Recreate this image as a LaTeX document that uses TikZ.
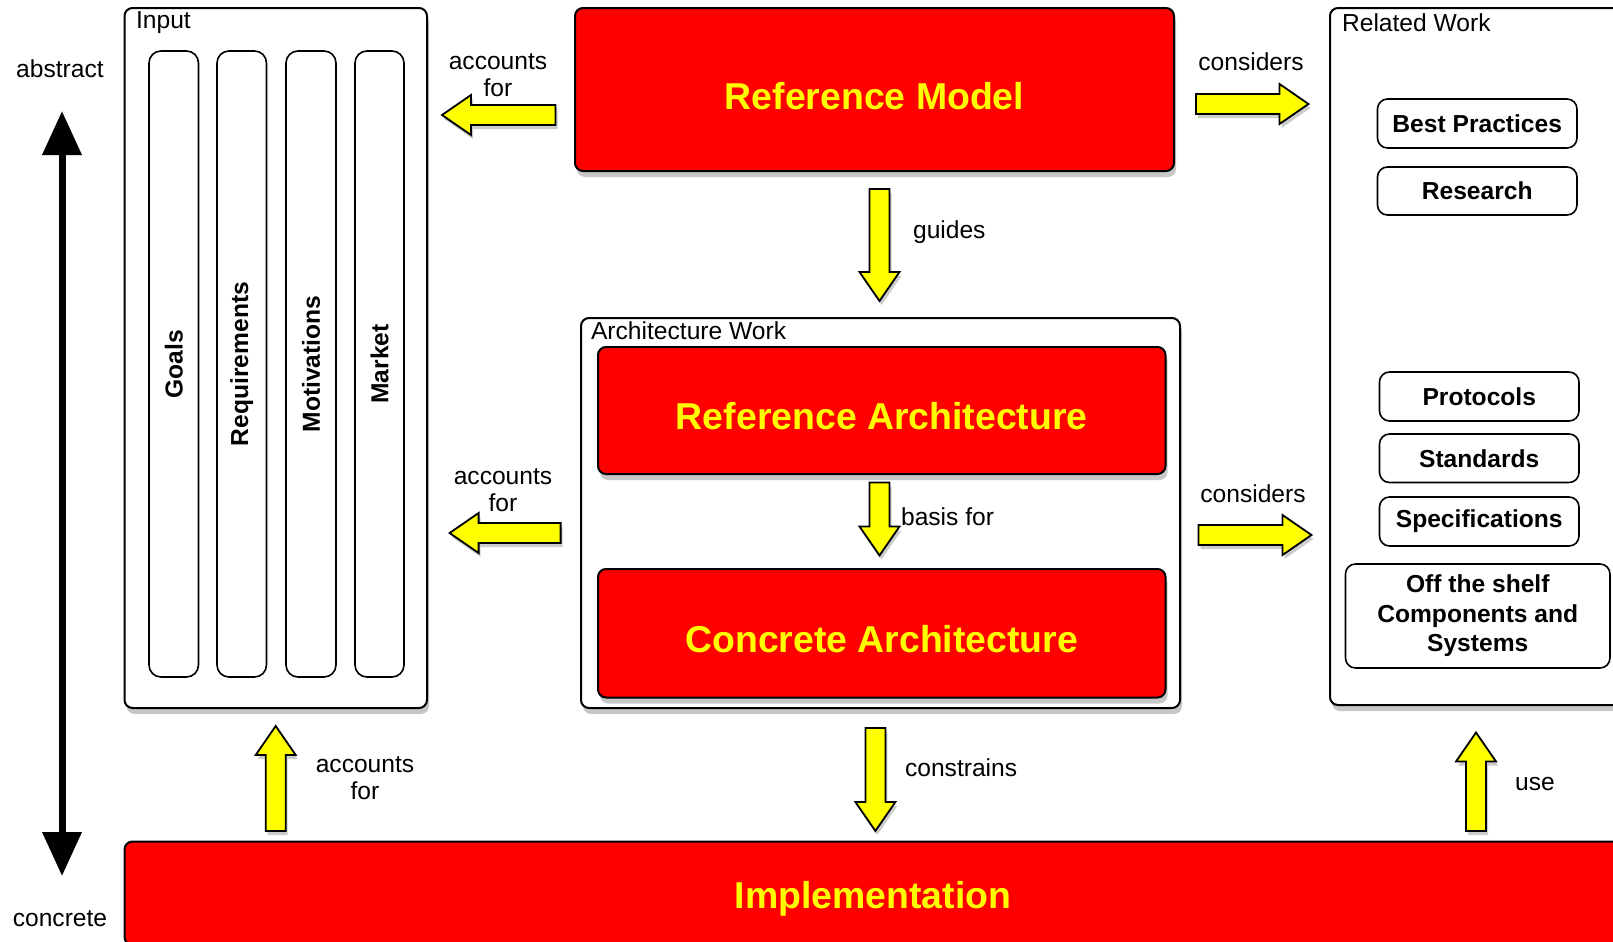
\documentclass[tikz,border=0pt]{standalone}
\usepackage{fontspec}
\setmainfont{Liberation Sans}
\usetikzlibrary{fit,shadows,arrows.meta}
\definecolor{boxred}{RGB}{255,0,0}
\definecolor{txtyellow}{RGB}{255,255,0}
\definecolor{arryellow}{RGB}{255,255,0}
\newcommand\myBig{\fontsize{18.7}{22}\selectfont\bfseries}
\newcommand\myLbl{\fontsize{12.3}{13.4}\selectfont}
\newcommand\mySmall{\fontsize{12.3}{14.7}\selectfont\bfseries}
\tikzset{
  shadowed/.style={drop shadow={shadow xshift=1pt,shadow yshift=-3pt,opacity=0.22,fill=black}},
  whitebox/.style={draw=black,line width=1pt,fill=white,rounded corners=4pt,inner sep=0pt,shadowed},
  redbox/.style={draw=black,line width=1pt,fill=boxred,rounded corners=4pt,inner sep=0pt,shadowed},
  bigtxt/.style={text=txtyellow,font=\myBig,text depth=0pt,inner sep=0pt},
  smallbox/.style={draw=black,line width=0.8pt,fill=white,rounded corners=5pt,inner sep=0pt},
  smalltxt/.style={font=\mySmall,align=center,inner sep=0pt},
  column/.style={draw=black,line width=0.8pt,rounded corners=6pt,inner sep=0pt},
  lbl/.style={font=\myLbl,align=center},
  pics/fatarr/.style={code={
    \draw[fill=arryellow,line width=0.9pt,line join=miter,drop shadow={shadow xshift=1pt,shadow yshift=-2pt,opacity=0.2,fill=black}]
      (0,-10) -- ({#1-29},-10) -- ({#1-29},-20) -- (#1,0) -- ({#1-29},20) -- ({#1-29},10) -- (0,10) -- cycle;}}
}
\begin{document}
\begin{tikzpicture}[x=0.5pt,y=-0.5pt]
\useasboundingbox (0,0) rectangle (1613,942);

% vertical abstract / concrete axis
\node[lbl] (abstract) at (60,69) {abstract};
\node[lbl] (concrete) at (60,919) {concrete};
\coordinate (axtop) at (62,111);
\coordinate (axbot) at (62,876);
\draw[line width=3.5pt,{Triangle[width=19pt,length=22pt]}-{Triangle[width=19pt,length=22pt]}] (axtop) -- (axbot);

% Input
\node[whitebox,fit={(124.5,8) (427,708)}] (input) {};
\node[lbl,anchor=west] (inputlbl) at (129,23) {Input};
\foreach \a/\b/\t [count=\i] in {149/198.5/Goals,217/266.5/Requirements,286/336/Motivations,355/404/Market}{
  \node[column,fit={(\a,51) (\b,677)}] (col\i) {};
  \node[rotate=90,font=\mySmall] (colt\i) at (col\i.center) {\t};
}

% Reference model
\node[redbox,fit={(575,8) (1174,171)}] (rm) {};
\node[bigtxt] (rmt) at ([yshift=-3pt]rm.center) {Reference Model};

% Related work
\node[whitebox,fit={(1330,8) (1640,705)}] (rw) {};
\node[lbl,anchor=west] (rwlbl) at (1335,23) {Related Work};
\node[smallbox,fit={(1377.5,99) (1577,148)}] (bp) {};
\node[smalltxt] (bpt) at (bp.center) {Best Practices};
\node[smallbox,fit={(1377.5,167) (1577,215)}] (rs) {};
\node[smalltxt] (rst) at (rs.center) {Research};
\node[smallbox,fit={(1379.5,372) (1579,421)}] (pr) {};
\node[smalltxt] (prt) at (pr.center) {Protocols};
\node[smallbox,fit={(1379.5,434) (1579,482.5)}] (st) {};
\node[smalltxt] (stt) at (st.center) {Standards};
\node[smallbox,fit={(1379.5,497) (1579,546)}] (sp) {};
\node[smalltxt] (spt) at (sp.center) {Specifications};
\node[smallbox,fit={(1345.5,564) (1610,668)}] (ots) {};
\node[smalltxt] (otst) at (ots.center) {Off the shelf\\Components and\\Systems};

% Architecture work
\node[whitebox,fit={(581,318) (1180,708)}] (aw) {};
\node[lbl,anchor=west] (awlbl) at (584,331) {Architecture Work};
\node[redbox,fit={(598,347) (1165.5,474)}] (ra) {};
\node[bigtxt] (rat) at ([yshift=-2.5pt]ra.center) {Reference Architecture};
\node[redbox,fit={(598,569) (1165.5,697.5)}] (ca) {};
\node[bigtxt] (cat) at ([yshift=-3pt]ca.center) {Concrete Architecture};

% Implementation
\node[redbox,fit={(124.5,841.5) (1625,945)}] (impl) {};
\node[bigtxt] (implt) at (873,895) {Implementation};

% fat arrows
\pic[rotate=180] at (555.5,115) {fatarr=113.5};
\pic at (1196,104) {fatarr=112.5};
\pic[rotate=-90] at (879.5,189) {fatarr=112};
\pic[rotate=180] at (560.6,533) {fatarr=111};
\pic at (1198.5,535) {fatarr=113};
\pic[rotate=-90] at (879.5,482.5) {fatarr=73};
\pic[rotate=90] at (275.7,831) {fatarr=105};
\pic[rotate=-90] at (875.4,728) {fatarr=103};
\pic[rotate=90] at (1476,831) {fatarr=98.5};

% arrow labels
\node[lbl] (l1) at (498,75) {accounts\\for};
\node[lbl] (l2) at (1251,62) {considers};
\node[lbl,anchor=west] (l3) at (906,232.5) {guides};
\node[lbl] (l4) at (503,490.5) {accounts\\for};
\node[lbl,anchor=west] (l5) at (894,516.4) {basis for};
\node[lbl] (l6) at (1253,494) {considers};
\node[lbl] (l7) at (365,778) {accounts\\for};
\node[lbl,anchor=west] (l8) at (898,767.4) {constrains};
\node[lbl] (l9) at (1535,784) {use};
\end{tikzpicture}
\end{document}
